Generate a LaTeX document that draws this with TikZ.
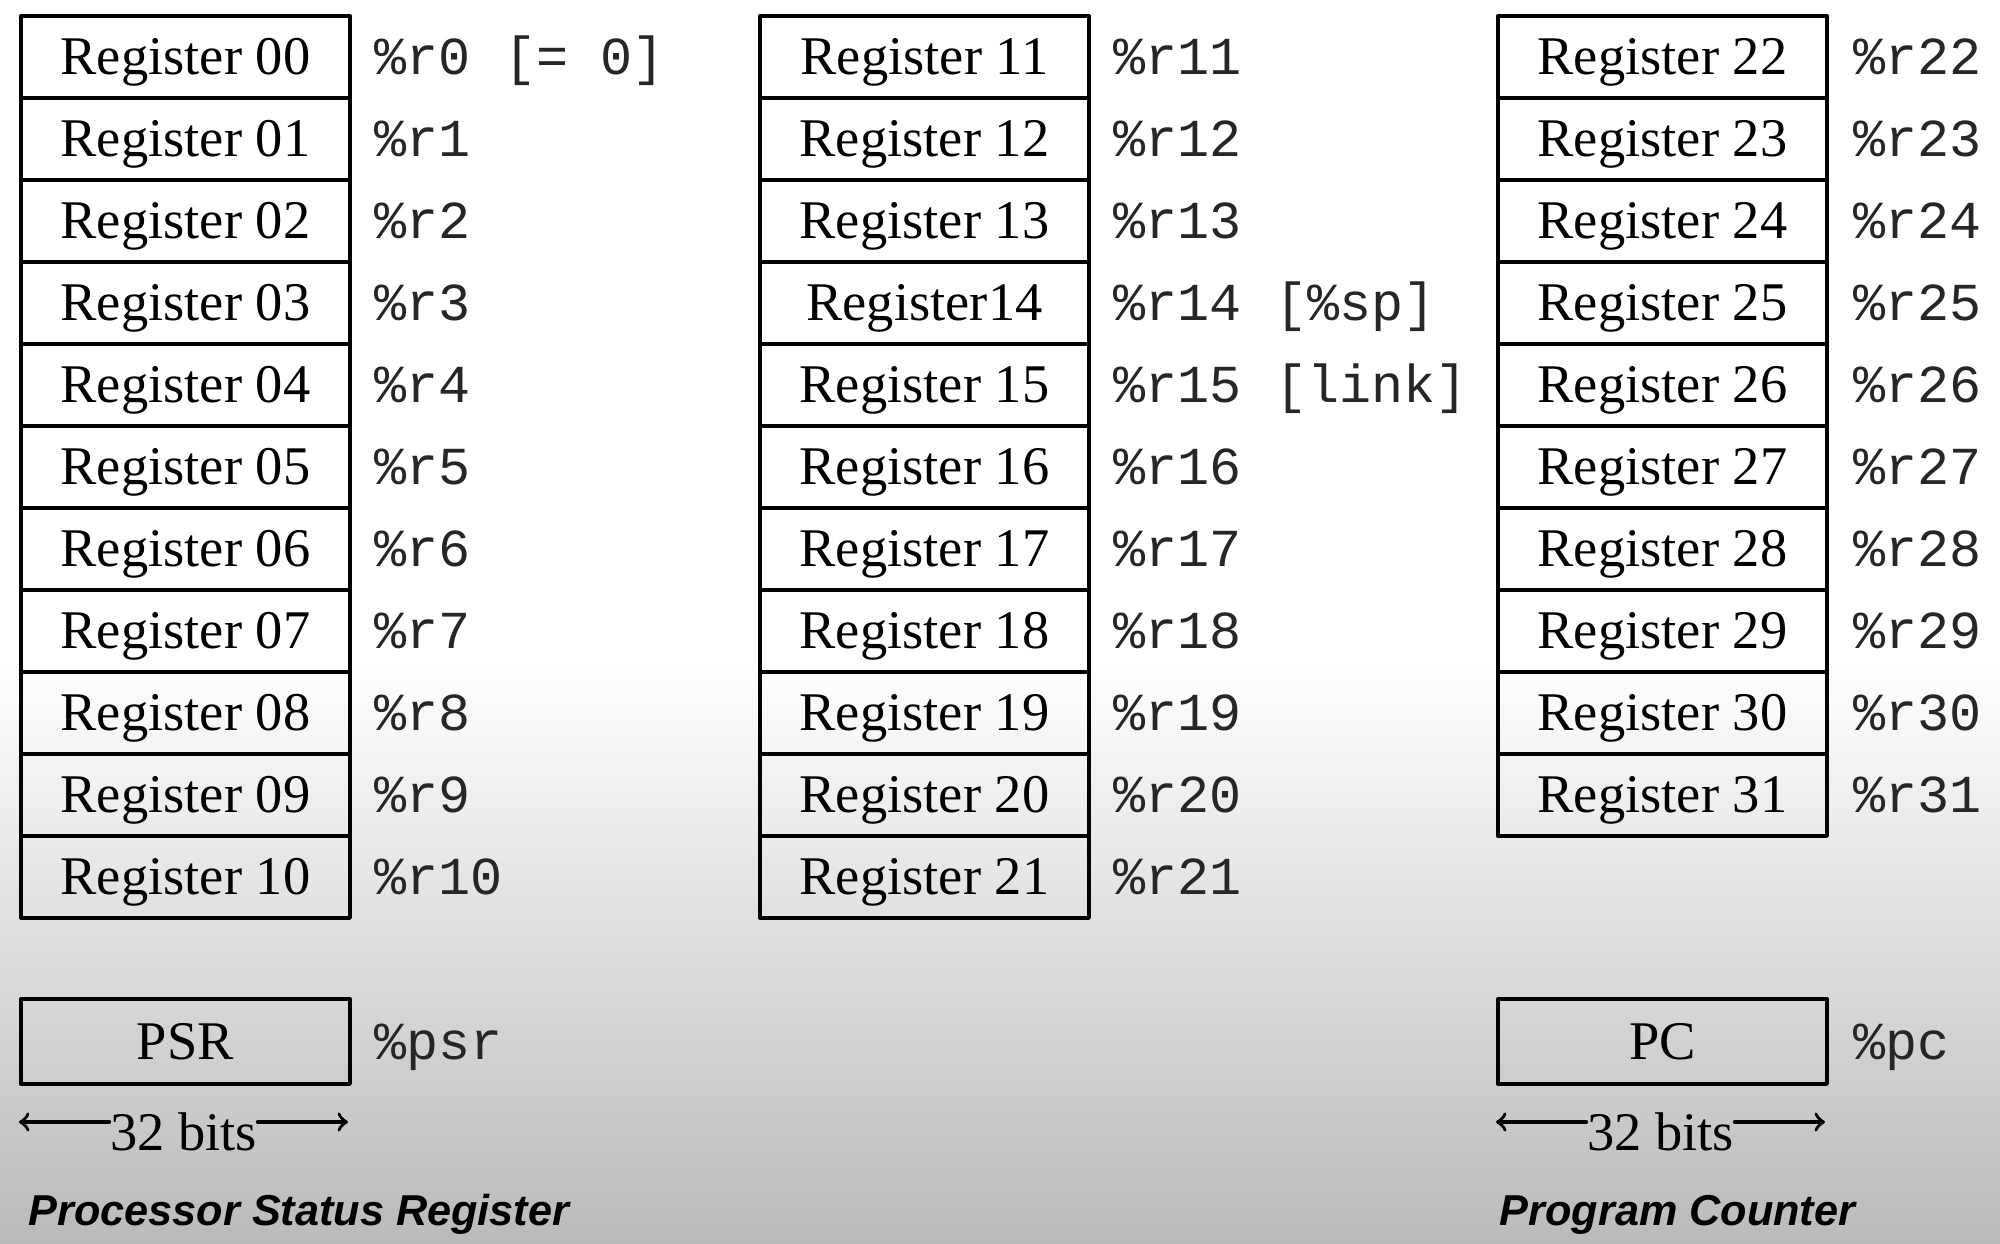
\documentclass[tikz,border=0pt]{standalone}
\usepackage{fontspec}
\setmainfont{Liberation Serif}
\setsansfont{Liberation Sans}
\setmonofont{Liberation Mono}
\usetikzlibrary{positioning}
\begin{document}
\begin{tikzpicture}[line cap=round, line join=round, >=to, font=\fontsize{15.5}{18}\selectfont]
	\tikzset{regtext/.style={text height=0.42cm, text depth=0.06cm, inner sep=0pt},
		regbox/.style={regtext, draw, line width=1.1pt, minimum width=3.29cm, minimum height=0.82cm, anchor=north west},
		regname/.style={regtext, font=\fontsize{15.2}{18}\selectfont\ttfamily, text=black!85, anchor=west},
		caption/.style={font=\fontsize{12.3}{14}\selectfont\sffamily\bfseries\itshape, anchor=base west, inner sep=0pt}}
	\useasboundingbox (0,0) rectangle (20,-12.44);
	\fill[white] (0,0) rectangle (20,-6.6);
	\shade[top color=white, bottom color=black!27] (0,-6.6) rectangle (20,-12.44);
	% register file
	\foreach \i in {0,...,10}{
		\pgfmathtruncatemacro{\regno}{\i+11}
		\node[regbox] (reg\i) at (0.19,-0.14-0.82*\i) {Register \ifnum\i<10 0\fi\i};
		\node[regname, right=0.22cm of reg\i] (lbl\i) {\%r\i};
		\node[regbox] (reg\regno) at (7.58,-0.14-0.82*\i) {\ifnum\regno=14 Register14\else Register \regno\fi};
		\node[regname, right=0.22cm of reg\regno] (lbl\regno) {\%r\regno};
	}
	\foreach \i in {22,...,31}{
		\node[regbox] (reg\i) at (14.96,-0.14-0.82*\i+0.82*22) {Register \i};
		\node[regname, right=0.24cm of reg\i] (lbl\i) {\%r\i};
	}
	\node[regname, right=0.322cm of lbl0] (note0) {[= 0]};
	\node[regname, right=0.322cm of lbl14] (note14) {[\%sp]};
	\node[regname, right=0.322cm of lbl15] (note15) {[link]};
	% special registers
	\node[regbox, minimum height=0.85cm] (psr) at (0.19,-9.97) {PSR};
	\node[regname, right=0.22cm of psr] (lblpsr) {\%psr};
	\node[regbox, minimum height=0.85cm] (pc) at (14.96,-9.97) {PC};
	\node[regname, right=0.24cm of pc] (lblpc) {\%pc};
	% widths
	\node[anchor=base, inner sep=0pt] (bitspsr) at (1.835,-11.50) {32 bits};
	\coordinate (psrl) at (0.19,-11.22);
	\coordinate (psrr) at (3.48,-11.22);
	\draw[<-, line width=1pt] (psrl) -- (psrl -| bitspsr.west);
	\draw[->, line width=1pt] (psrr -| bitspsr.east) -- (psrr);
	\node[anchor=base, inner sep=0pt] (bitspc) at (16.605,-11.50) {32 bits};
	\coordinate (pcl) at (14.96,-11.22);
	\coordinate (pcr) at (18.25,-11.22);
	\draw[<-, line width=1pt] (pcl) -- (pcl -| bitspc.west);
	\draw[->, line width=1pt] (pcr -| bitspc.east) -- (pcr);
	\node[caption] (capsr) at (0.28,-12.25) {Processor Status Register};
	\node[caption] (cappc) at (14.99,-12.25) {Program Counter};
\end{tikzpicture}
\end{document}
